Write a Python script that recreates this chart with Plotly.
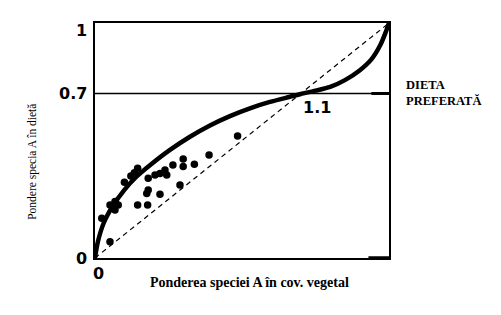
import plotly.graph_objects as go

# Thick selection curve (share of species A in vegetation vs in diet)
curve_x = [0.0, 0.01, 0.03, 0.06, 0.10, 0.14, 0.19, 0.255, 0.323, 0.391, 0.459, 0.527, 0.595, 0.663,
           0.70, 0.75, 0.80, 0.85, 0.90, 0.94, 0.97, 0.99, 1.0]
curve_y = [0.0, 0.07, 0.15, 0.22, 0.29, 0.345, 0.398, 0.460, 0.516, 0.564, 0.604, 0.637, 0.664, 0.686,
           0.698, 0.712, 0.728, 0.757, 0.798, 0.845, 0.905, 0.965, 1.0]

# Observed points
pts_x = [0.145, 0.134, 0.122, 0.100, 0.181, 0.204, 0.221, 0.238, 0.244, 0.265, 0.181, 0.176, 0.221,
         0.145, 0.179, 0.068, 0.051, 0.079, 0.068, 0.023, 0.051, 0.485, 0.388, 0.300, 0.300, 0.338, 0.289]
pts_y = [0.382, 0.363, 0.349, 0.322, 0.339, 0.353, 0.360, 0.374, 0.353, 0.396, 0.289, 0.275, 0.271,
         0.226, 0.226, 0.240, 0.226, 0.226, 0.204, 0.169, 0.069, 0.519, 0.438, 0.421, 0.389, 0.399, 0.311]

# Diagonal (no selection)
diag_x = [0, 1]
diag_y = [0, 1]

# Preferred diet level
pref_level = 0.7
y_ticks = [0, 0.7, 1]
y_tick_text = ["0", "0.7", "1"]
x_tick_text = "0"
cross_label = "1.1"

fig = go.Figure()
fig.add_trace(go.Scatter(x=diag_x, y=diag_y, mode="lines",
                         line=dict(color="black", width=1.2, dash="5px,4px"), cliponaxis=False))
fig.add_trace(go.Scatter(x=[0, 1], y=[pref_level, pref_level], mode="lines",
                         line=dict(color="black", width=1.5), cliponaxis=False))
fig.add_trace(go.Scatter(x=curve_x, y=curve_y, mode="lines", line_shape="spline",
                         line=dict(color="black", width=4.5, smoothing=0.8), cliponaxis=False))
fig.add_trace(go.Scatter(x=pts_x, y=pts_y, mode="markers",
                         marker=dict(color="black", size=7.5), cliponaxis=False))

tick_font = dict(family="DejaVu Sans", size=16, color="black")
serif = "Liberation Serif"
anns = []
shifts = {0: 0, 0.7: 0, 1: -7}
for v, t in zip(y_ticks, y_tick_text):
    anns.append(dict(x=-0.022, y=v, xref="paper", yref="paper", text="<b>%s</b>" % t, showarrow=False,
                     xanchor="right", yanchor="middle", yshift=shifts[v], font=tick_font))
anns.append(dict(x=0.013, y=0, xref="paper", yref="paper", text="<b>%s</b>" % x_tick_text, showarrow=False,
                 xanchor="center", yanchor="top", yshift=-4, font=tick_font))
anns.append(dict(x=0.755, y=pref_level, xref="x", yref="y", text="<b>%s</b>" % cross_label, showarrow=False,
                 xanchor="center", yanchor="top", yshift=-2, font=tick_font))
anns.append(dict(x=1.051, y=pref_level, xref="paper", yref="y", text="<b>DIETA<br>PREFERATĂ</b>",
                 showarrow=False, xanchor="left", yanchor="middle", align="left", yshift=1,
                 font=dict(family=serif, size=12.5, color="black")))
anns.append(dict(x=0.524, y=-0.106, xref="paper", yref="paper",
                 text="<b>Ponderea speciei A în cov. vegetal</b>", showarrow=False,
                 xanchor="center", yanchor="middle",
                 font=dict(family=serif, size=14, color="black")))
anns.append(dict(x=-0.211, y=0.409, xref="paper", yref="paper",
                 text="Pondere specia A în dietă", showarrow=False, textangle=-90,
                 xanchor="center", yanchor="middle",
                 font=dict(family=serif, size=11.5, color="black")))

shapes = [
    dict(type="line", xref="x", yref="y", x0=0.94, x1=1.0, y0=pref_level, y1=pref_level,
         line=dict(color="black", width=3)),
    dict(type="line", xref="x", yref="y", x0=0.93, x1=1.0, y0=0, y1=0,
         line=dict(color="black", width=3.5)),
]

fig.update_layout(
    width=501, height=315,
    margin=dict(l=95, r=112, t=23, b=57),
    paper_bgcolor="white", plot_bgcolor="white",
    showlegend=False,
    annotations=anns,
    shapes=shapes,
    xaxis=dict(range=[0, 1], showgrid=False, zeroline=False, showticklabels=False, ticks="",
               showline=True, mirror=True, linecolor="black", linewidth=2),
    yaxis=dict(range=[0, 1], showgrid=False, zeroline=False, showticklabels=False, ticks="",
               showline=True, mirror=True, linecolor="black", linewidth=2),
)
fig.write_html("out.html")
